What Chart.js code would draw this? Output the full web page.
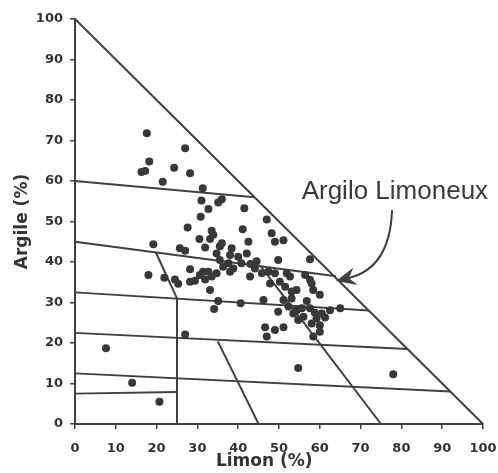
<!DOCTYPE html>
<html>
<head>
<meta charset="utf-8">
<script src="https://cdn.jsdelivr.net/npm/chart.js@4/dist/chart.umd.min.js"></script>
<style>
  html, body { margin: 0; padding: 0; background: #ffffff; }
  canvas { display: block; }
</style>
</head>
<body>
<canvas id="c" width="498" height="473"></canvas>
<script>
// ---- Data: samples (Limon %, Argile %) ----
const limon = [
  17.6, 27.0, 18.2, 16.3, 17.2, 24.3, 28.2, 21.5, 31.3, 31.0,
  32.7, 35.1, 36.0, 41.5, 30.8, 27.6, 33.5, 33.9, 41.1, 30.5,
  33.1, 35.5, 31.9, 42.5, 19.2, 25.7, 27.0, 38.4, 47.0, 48.2,
  49.0, 51.1, 18.0, 21.9, 24.5, 25.3, 28.2, 28.2, 29.4, 30.6,
  31.4, 32.7, 31.9, 33.5, 34.7, 33.1, 35.1, 34.1, 40.6, 34.7,
  36.0, 35.5, 38.0, 37.6, 40.0, 38.8, 40.8, 42.1, 38.0, 36.3,
  57.6, 49.8, 44.1, 45.8, 42.9, 47.4, 49.0, 51.9, 52.7, 47.8,
  50.2, 51.5, 56.4, 57.6, 53.1, 54.3, 58.4, 60.0, 56.8, 53.1,
  51.1, 46.2, 52.3, 54.3, 55.6, 57.6, 58.8, 60.5, 62.5, 65.0,
  49.8, 53.5, 54.7, 56.0, 59.2, 61.3, 58.0, 60.0, 46.6, 49.0,
  51.1, 47.0, 60.0, 58.4, 58.0, 43.0, 44.5, 27.0, 7.6, 14.0,
  20.7, 54.7, 78.0
];
const argile = [
  71.8, 68.1, 64.8, 62.2, 62.5, 63.3, 61.9, 59.8, 58.2, 55.2,
  53.1, 54.7, 55.5, 53.3, 51.2, 48.5, 47.7, 46.7, 48.1, 45.7,
  45.7, 43.9, 43.6, 45.0, 44.4, 43.4, 42.8, 43.4, 50.5, 47.1,
  45.0, 45.4, 36.8, 36.1, 35.7, 34.6, 38.2, 35.1, 35.4, 36.8,
  37.6, 37.6, 35.7, 36.4, 37.2, 33.1, 30.4, 28.4, 29.8, 42.1,
  44.6, 40.5, 41.7, 39.7, 41.3, 38.4, 39.7, 42.1, 37.6, 38.8,
  40.7, 40.5, 38.4, 37.2, 36.4, 37.6, 37.2, 37.2, 36.4, 34.7,
  35.1, 33.9, 36.8, 35.6, 32.7, 33.1, 33.1, 31.9, 30.4, 31.0,
  30.6, 30.6, 29.0, 28.1, 28.6, 28.6, 27.5, 27.3, 28.1, 28.6,
  27.7, 27.3, 25.7, 26.5, 26.1, 26.3, 24.8, 24.4, 23.9, 23.2,
  23.9, 21.6, 22.8, 21.6, 34.7, 39.5, 40.2, 22.1, 18.7, 10.2,
  5.5, 13.8, 12.3
];

// ---- Texture triangle boundaries (Limon %, Argile %) ----
const hypotenuse = [[0, 100], [100, 0]];
const line60   = [[0, 60], [44, 56]];
const line45   = [[0, 45], [64, 36.5]];
const line32   = [[0, 32.5], [72, 28]];
const line22   = [[0, 22.5], [81.5, 18.5]];
const line12   = [[0, 12.5], [92, 8]];
const line7    = [[0, 7.5], [25, 7.9]];
const sandSide = [[19.8, 42.4], [25, 31], [25, 0]];
const diagA    = [[35, 20.4], [45, 0]];
const diagB    = [[45.5, 39], [75, 0]];
const boundaries = [hypotenuse, line60, line45, line32, line22, line12, line7, sandSide, diagA, diagB];

// ---- Axis ticks & labels ----
const tickValues = [0, 10, 20, 30, 40, 50, 60, 70, 80, 90, 100];
const xTitle = 'Limon (%)';
const yTitle = 'Argile (%)';

// ---- Annotation ----
const annotationText = 'Argilo Limoneux';
const annotationPos = [78.4, 55.6];
const arrowStart = [77.7, 52.8];
const arrowCtrl  = [77.2, 38.5];
const arrowTip   = [64.0, 35.3];

const INK = '#404040';

const toXY = arr => arr.map(p => ({ x: p[0], y: p[1] }));

const datasets = [{
  label: 'Échantillons',
  data: limon.map((x, i) => ({ x: x, y: argile[i] })),
  backgroundColor: '#383838',
  borderWidth: 0,
  pointRadius: 4,
  showLine: false,
  order: 0
}].concat(boundaries.map((b, i) => ({
  label: 'limite ' + i,
  data: toXY(b),
  showLine: true,
  borderColor: INK,
  borderWidth: 2,
  pointRadius: 0,
  fill: false,
  tension: 0,
  clip: false,
  order: 1
})));

const annotationPlugin = {
  id: 'annotation',
  afterDraw(chart) {
    const { ctx, scales: { x, y } } = chart;
    const px = p => [x.getPixelForValue(p[0]), y.getPixelForValue(p[1])];
    const s = px(arrowStart), c = px(arrowCtrl), t = px(arrowTip);
    ctx.save();
    ctx.font = '26px "Liberation Sans", Arial, sans-serif';
    ctx.fillStyle = '#3a3a3a';
    ctx.textAlign = 'center';
    ctx.textBaseline = 'alphabetic';
    const tp = px(annotationPos);
    ctx.fillText(annotationText, tp[0], tp[1]);

    // curved arrow shaft
    const dx = t[0] - c[0], dy = t[1] - c[1];
    const len = Math.hypot(dx, dy);
    const ux = dx / len, uy = dy / len;
    const headLen = 20, headHalf = 9, notch = 13;
    const endX = t[0] - ux * notch, endY = t[1] - uy * notch;
    ctx.strokeStyle = INK;
    ctx.lineWidth = 2;
    ctx.beginPath();
    ctx.moveTo(s[0], s[1]);
    ctx.quadraticCurveTo(c[0], c[1], endX, endY);
    ctx.stroke();
    // barbed head
    const bx = t[0] - ux * headLen, by = t[1] - uy * headLen;
    const nx = -uy, ny = ux;
    ctx.fillStyle = INK;
    ctx.beginPath();
    ctx.moveTo(t[0], t[1]);
    ctx.lineTo(bx + nx * headHalf, by + ny * headHalf);
    ctx.lineTo(endX, endY);
    ctx.lineTo(bx - nx * headHalf, by - ny * headHalf);
    ctx.closePath();
    ctx.fill();
    ctx.restore();
  }
};

const tickFont = { family: '"DejaVu Sans", sans-serif', weight: 'bold', size: 13 };
const titleFont = { family: '"DejaVu Sans", sans-serif', weight: 'bold', size: 17 };

new Chart(document.getElementById('c'), {
  type: 'scatter',
  data: { datasets: datasets },
  options: {
    responsive: false,
    animation: false,
    layout: { padding: { top: 19, right: 15, left: 0, bottom: 0 } },
    plugins: { legend: { display: false }, tooltip: { enabled: false } },
    scales: {
      x: {
        type: 'linear', min: 0, max: 100,
        afterBuildTicks: s => { s.ticks = tickValues.map(v => ({ value: v })); },
        afterFit: s => { s.height = 49; s.paddingRight = 0; s.paddingLeft = 0; },
        ticks: { font: tickFont, color: '#333', padding: 12, maxRotation: 0, autoSkip: false },
        grid: { drawOnChartArea: false, drawTicks: true, tickLength: 5, color: INK, lineWidth: 1.5 },
        border: { display: true, color: INK, width: 2 },
        title: { display: true, text: xTitle + '     ', font: titleFont, color: '#333', padding: { top: 0, bottom: 1 } }
      },
      y: {
        type: 'linear', min: 0, max: 100,
        afterBuildTicks: s => { s.ticks = tickValues.map(v => ({ value: v })); },
        afterFit: s => { s.width = 75; },
        ticks: { font: tickFont, color: '#333', padding: 7, autoSkip: false },
        grid: { drawOnChartArea: false, drawTicks: true, tickLength: 5, color: INK, lineWidth: 1.5 },
        border: { display: true, color: INK, width: 2 },
        title: { display: true, text: yTitle, font: titleFont, color: '#333', padding: { top: 12, bottom: 0 } }
      }
    }
  },
  plugins: [annotationPlugin]
});
</script>
</body>
</html>
